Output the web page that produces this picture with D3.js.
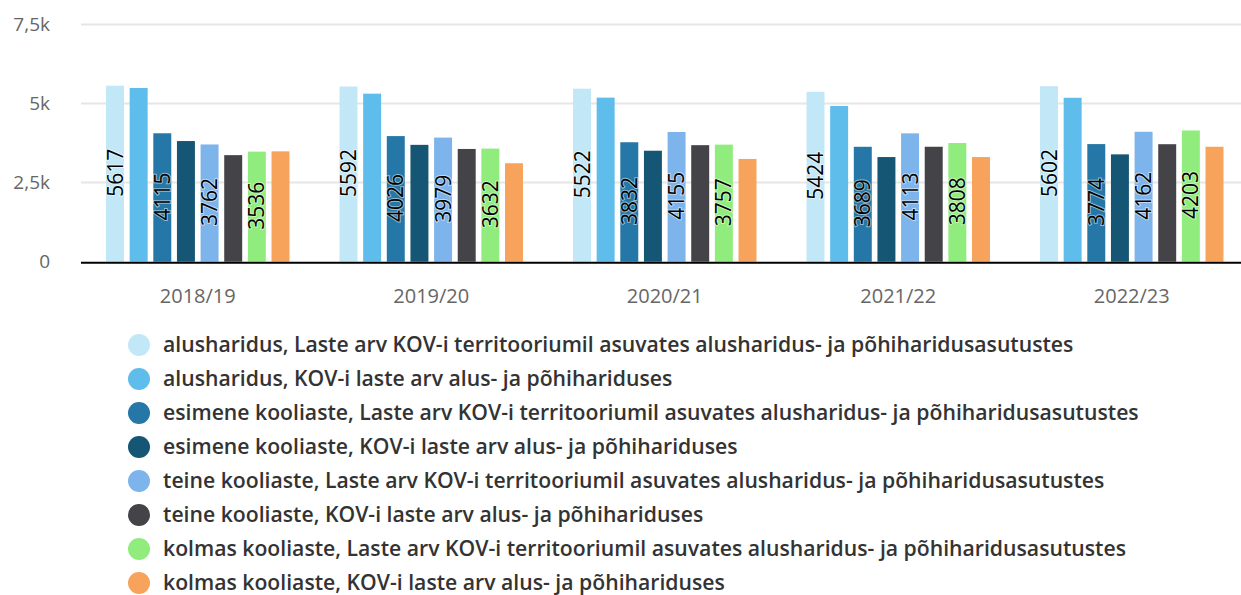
<!DOCTYPE html>
<html>
<head>
<meta charset="utf-8">
<script src="https://cdn.jsdelivr.net/npm/d3@7"></script>
<style>
  body { margin: 0; background: #fff; }
  svg { font-family: "Open Sans", Lato, sans-serif; }
</style>
</head>
<body>
<svg id="chart" width="1241" height="595"></svg>
<script>
// school years on the x axis
const years = ["2018/19", "2019/20", "2020/21", "2021/22", "2022/23"];

const seriesNames = [
  "alusharidus, Laste arv KOV-i territooriumil asuvates alusharidus- ja põhiharidusasutustes",
  "alusharidus, KOV-i laste arv alus- ja põhihariduses",
  "esimene kooliaste, Laste arv KOV-i territooriumil asuvates alusharidus- ja põhiharidusasutustes",
  "esimene kooliaste, KOV-i laste arv alus- ja põhihariduses",
  "teine kooliaste, Laste arv KOV-i territooriumil asuvates alusharidus- ja põhiharidusasutustes",
  "teine kooliaste, KOV-i laste arv alus- ja põhihariduses",
  "kolmas kooliaste, Laste arv KOV-i territooriumil asuvates alusharidus- ja põhiharidusasutustes",
  "kolmas kooliaste, KOV-i laste arv alus- ja põhihariduses"
];

const seriesColors = ["#c2e8f7", "#5ebdeb", "#2477a6", "#155674", "#7db4ec", "#434348", "#90ed7d", "#f7a35c"];

// one array per series, one value per year
const alusTerr   = [5617, 5592, 5522, 5424, 5602];
const alusKov    = [5545, 5365, 5240, 4975, 5235];
const esimeneTerr = [4115, 4026, 3832, 3689, 3774];
const esimeneKov = [3870, 3750, 3565, 3365, 3450];
const teineTerr  = [3762, 3979, 4155, 4113, 4162];
const teineKov   = [3425, 3620, 3740, 3690, 3770];
const kolmasTerr = [3536, 3632, 3757, 3808, 4203];
const kolmasKov  = [3545, 3170, 3305, 3365, 3690];

const seriesValues = [alusTerr, alusKov, esimeneTerr, esimeneKov, teineTerr, teineKov, kolmasTerr, kolmasKov];
// only every other series shows its value
const labelled = [true, false, true, false, true, false, true, false];

const yTicks = [0, 2500, 5000, 7500];
const yTickLabels = ["0", "2,5k", "5k", "7,5k"];

const svg = d3.select("#chart");
const width = 1241;

const x0 = d3.scaleBand()
  .domain(years)
  .range([81, 1248.5])
  .paddingInner(0.19)
  .paddingOuter(0.095);

const x1 = d3.scaleBand()
  .domain(d3.range(seriesNames.length))
  .range([0, x0.bandwidth()])
  .paddingInner(0.24)
  .paddingOuter(0.12);

const y = d3.scaleLinear()
  .domain([0, 7500])
  .range([261.7, 24]);

// grid lines
svg.append("g")
  .selectAll("line")
  .data(yTicks.slice(1))
  .join("line")
  .attr("x1", 81)
  .attr("x2", width)
  .attr("y1", d => Math.round(y(d)) + 0.5)
  .attr("y2", d => Math.round(y(d)) + 0.5)
  .attr("stroke", "#e6e6e6")
  .attr("stroke-width", 2);

// y tick labels
svg.append("g")
  .selectAll("text")
  .data(yTicks)
  .join("text")
  .attr("x", 50)
  .attr("y", d => y(d))
  .attr("dy", "0.35em")
  .attr("text-anchor", "end")
  .attr("fill", "#666")
  .style("font-size", "19px")
  .text((d, i) => yTickLabels[i]);

// bars
const groups = svg.append("g")
  .selectAll("g")
  .data(years)
  .join("g")
  .attr("transform", d => `translate(${x0(d)},0)`);

groups.selectAll("rect")
  .data((d, yi) => seriesValues.map((vals, si) => ({ si, value: vals[yi] })))
  .join("rect")
  .attr("x", d => x1(d.si))
  .attr("width", x1.bandwidth())
  .attr("y", d => y(d.value) + 2)
  .attr("height", d => y(0) - y(d.value) - 2)
  .attr("fill", d => seriesColors[d.si]);

// value labels (rotated, centred in bar)
groups.selectAll("text")
  .data((d, yi) => seriesValues.map((vals, si) => ({ si, value: vals[yi] })).filter(d => labelled[d.si]))
  .join("text")
  .attr("transform", d => {
    const cx = x1(d.si) + x1.bandwidth() / 2;
    const cy = (y(d.value) + y(0)) / 2;
    return `translate(${cx},${cy}) rotate(-90)`;
  })
  .attr("text-anchor", "middle")
  .attr("dy", "0.36em")
  .attr("fill", "#000")
  .attr("stroke", "rgba(255,255,255,0.5)")
  .attr("stroke-width", 2)
  .attr("paint-order", "stroke")
  .style("font-size", "21px")
  .text(d => d.value);

// baseline
svg.append("line")
  .attr("x1", 81)
  .attr("x2", width)
  .attr("y1", y(0) + 1)
  .attr("y2", y(0) + 1)
  .attr("stroke", "#000")
  .attr("stroke-width", 2);

// x labels
svg.append("g")
  .selectAll("text")
  .data(years)
  .join("text")
  .attr("x", d => x0(d) + x0.bandwidth() / 2)
  .attr("y", 296)
  .attr("dy", "0.35em")
  .attr("text-anchor", "middle")
  .attr("fill", "#666")
  .style("font-size", "20px")
  .text(d => d);

// legend
const legend = svg.append("g")
  .selectAll("g")
  .data(seriesNames)
  .join("g")
  .attr("transform", (d, i) => `translate(0,${345 + i * 34})`);

legend.append("circle")
  .attr("cx", 139)
  .attr("cy", 0)
  .attr("r", 11)
  .attr("fill", (d, i) => seriesColors[i]);

legend.append("text")
  .attr("x", 163)
  .attr("y", 0)
  .attr("dy", "0.35em")
  .attr("fill", "#333")
  .style("font-size", "21.2px")
  .style("font-weight", "600")
  .text(d => d);
</script>
</body>
</html>
